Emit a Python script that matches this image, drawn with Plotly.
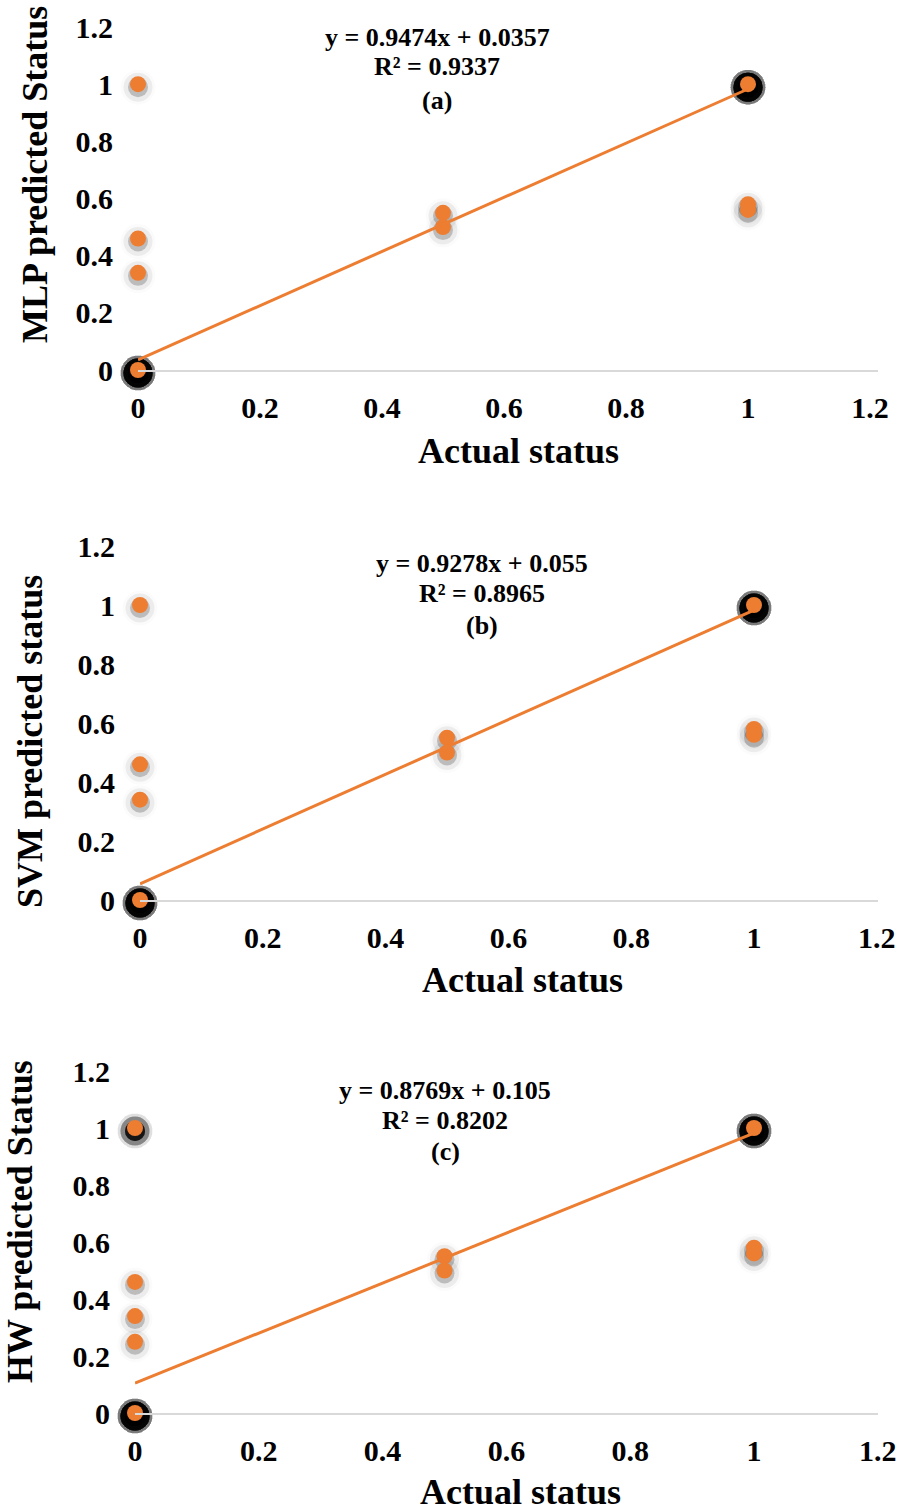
import plotly.graph_objects as go

# ---------------- data ----------------
panel_labels = ["(a)", "(b)", "(c)"]
y_titles = ["MLP predicted Status", "SVM predicted status", "HW predicted Status"]
x_title = "Actual status"

# actual / predicted pairs and how many samples overlap at each pair
mlp_actual    = [0, 0, 0, 0, 0.5, 0.5, 1, 1, 1]
mlp_predicted = [0, 1, 0.46, 0.34, 0.55, 0.5, 1, 0.58, 0.56]
mlp_count     = [40, 1, 1, 1, 1, 1, 40, 1, 1]

svm_actual    = [0, 0, 0, 0, 0.5, 0.5, 1, 1, 1]
svm_predicted = [0, 1, 0.46, 0.34, 0.55, 0.5, 1, 0.58, 0.56]
svm_count     = [40, 1, 1, 1, 1, 1, 40, 1, 1]

hw_actual     = [0, 0, 0, 0, 0, 0.5, 0.5, 1, 1, 1]
hw_predicted  = [0, 1, 0.46, 0.34, 0.25, 0.55, 0.5, 1, 0.58, 0.56]
hw_count      = [40, 8, 1, 1, 1, 1, 1, 40, 1, 1]

slopes      = [0.9474, 0.9278, 0.8769]
intercepts  = [0.0357, 0.055, 0.105]
r_squared   = [0.9337, 0.8965, 0.8202]
trend_x     = [0, 1]

x_ticks = [0, 0.2, 0.4, 0.6, 0.8, 1, 1.2]
x_tick_text = ["0", "0.2", "0.4", "0.6", "0.8", "1", "1.2"]
y_ticks = [0, 0.2, 0.4, 0.6, 0.8, 1, 1.2]
y_tick_text = ["0", "0.2", "0.4", "0.6", "0.8", "1", "1.2"]

actuals = [mlp_actual, svm_actual, hw_actual]
predicteds = [mlp_predicted, svm_predicted, hw_predicted]
counts = [mlp_count, svm_count, hw_count]

# ---------------- layout (pixels) ----------------
W, H = 898, 1512
ORANGE = "#ED7D31"
FONT = "Liberation Serif"
SHADOW_DROP = 3  # px the marker shadow sits below its marker


def fx(p):
    return p / W


def fy(p):
    return 1 - p / H


# per panel: x pixel of value 0, x pixel of value 1, right edge, y pixel of 0, y pixel of 1.2
geom = [
    dict(x0=138, x1=748, xr=878, y0=370, ytop=27),
    dict(x0=140, x1=754, xr=878, y0=900, ytop=546),
    dict(x0=135, x1=754, xr=878, y0=1413, ytop=1071),
]
eq_x = [437, 482, 445]
eq_y = [(38, 67, 100), (563, 593, 625), (1090, 1120, 1151)]
ytitle_pos = [(35, 175), (30, 742), (20, 1222)]
xtitle_pos = [(518, 451), (522, 980), (520, 1492)]

# shadow layers: (size, alpha per overlapping sample)
shadow_layers = [(35, 0.015), (29, 0.06), (20, 0.2)]


def ax_name(kind, n):
    return kind if n == 1 else f"{kind}{n}"


fig = go.Figure()
annotations = []
layout_axes = {}

for i in range(3):
    g = geom[i]
    s = i + 1          # shadow axes number (drawn first, underneath)
    n = i + 4          # main axes number (drawn on top)
    xa, ya = f"x{n}", f"y{n}"
    sxa, sya = ax_name("x", s), ax_name("y", s)
    per_unit = g["x1"] - g["x0"]
    xmax = (g["xr"] - g["x0"]) / per_unit

    xdom = [fx(g["x0"]), fx(g["xr"])]
    ydom = [fy(g["y0"]), fy(g["ytop"])]
    ydom_sh = [fy(g["y0"] + SHADOW_DROP), fy(g["ytop"] + SHADOW_DROP)]

    # shadows, repeated per overlapping sample to accumulate darkness
    sx, sy = [], []
    for xv, yv, c in zip(actuals[i], predicteds[i], counts[i]):
        sx += [xv] * c
        sy += [yv] * c
    for size, alpha in shadow_layers:
        fig.add_trace(go.Scatter(
            x=sx, y=sy, mode="markers", xaxis=sxa, yaxis=sya, showlegend=False,
            cliponaxis=False, hoverinfo="skip",
            marker=dict(size=size, color=f"rgba(0,0,0,{alpha})", line=dict(width=0)),
        ))
    # points
    fig.add_trace(go.Scatter(
        x=actuals[i], y=predicteds[i], mode="markers", xaxis=xa, yaxis=ya,
        showlegend=False, cliponaxis=False,
        marker=dict(size=16, color=ORANGE, line=dict(width=0)),
    ))
    # trend line (drawn above the points)
    fig.add_trace(go.Scatter(
        x=trend_x, y=[intercepts[i] + slopes[i] * t for t in trend_x],
        mode="lines", xaxis=xa, yaxis=ya, showlegend=False,
        line=dict(color=ORANGE, width=3), cliponaxis=False,
    ))

    tickfont = dict(family=FONT, size=30, color="black", weight="bold")
    layout_axes[f"xaxis{n}"] = dict(
        domain=xdom, range=[0, xmax], anchor=ya, automargin=False,
        tickvals=x_ticks, ticktext=x_tick_text,
        showgrid=False, zeroline=False,
        showline=True, linecolor="#d9d9d9", linewidth=2,
        ticks="outside", ticklen=0, ticklabelstandoff=10, tickfont=tickfont,
    )
    layout_axes[f"yaxis{n}"] = dict(
        domain=ydom, range=[0, 1.2], anchor=xa, automargin=False,
        tickvals=y_ticks, ticktext=y_tick_text,
        showgrid=False, zeroline=False, showline=False,
        ticks="outside", ticklen=0, ticklabelstandoff=18, tickfont=tickfont,
    )
    layout_axes[ax_name("xaxis", s)] = dict(
        domain=xdom, range=[0, xmax], anchor=sya, visible=False, automargin=False,
    )
    layout_axes[ax_name("yaxis", s)] = dict(
        domain=ydom_sh, range=[0, 1.2], anchor=sxa, visible=False, automargin=False,
    )

    lines = [f"y = {slopes[i]}x + {intercepts[i]}",
             f"R² = {r_squared[i]}",
             panel_labels[i]]
    for txt, yy in zip(lines, eq_y[i]):
        annotations.append(dict(
            text=txt, x=fx(eq_x[i]), y=fy(yy),
            xref="paper", yref="paper", showarrow=False,
            xanchor="center", yanchor="middle",
            font=dict(family=FONT, size=26, color="black", weight="bold"),
        ))
    annotations.append(dict(
        text=y_titles[i], x=fx(ytitle_pos[i][0]), y=fy(ytitle_pos[i][1]),
        xref="paper", yref="paper", showarrow=False, textangle=-90,
        xanchor="center", yanchor="middle",
        font=dict(family=FONT, size=36, color="black", weight="bold"),
    ))
    annotations.append(dict(
        text=x_title, x=fx(xtitle_pos[i][0]), y=fy(xtitle_pos[i][1]),
        xref="paper", yref="paper", showarrow=False,
        xanchor="center", yanchor="middle",
        font=dict(family=FONT, size=36, color="black", weight="bold"),
    ))

fig.update_layout(
    width=W, height=H,
    margin=dict(l=0, r=0, t=0, b=0, autoexpand=False),
    paper_bgcolor="white", plot_bgcolor="rgba(0,0,0,0)",
    annotations=annotations,
    **layout_axes,
)

fig.write_html(
    "out.html",
    config={"displayModeBar": False},
    post_script="document.body.style.margin='0';document.body.style.overflow='hidden';",
)
